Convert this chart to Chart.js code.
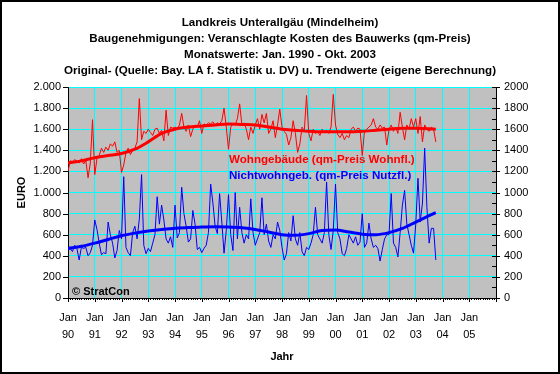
<!DOCTYPE html>
<html>
<head>
<meta charset="utf-8">
<script src="https://cdn.jsdelivr.net/npm/chart.js@4/dist/chart.umd.min.js"></script>
<style>
html,body{margin:0;padding:0;background:#fff;}
canvas{display:block;}
</style>
</head>
<body>
<canvas id="c" width="560" height="374"></canvas>
<script>
// ---- Data (monthly values Jan 1990 - Oct 2003) ----
const titleLines = [
  'Landkreis Unterallgäu (Mindelheim)',
  'Baugenehmigungen: Veranschlagte Kosten des Bauwerks (qm-Preis)',
  'Monatswerte: Jan. 1990 - Okt. 2003',
  'Original- (Quelle: Bay. LA f. Statistik u. DV) u. Trendwerte (eigene Berechnung)'
];
const yearLabels = ['90','91','92','93','94','95','96','97','98','99','00','01','02','03','04','05'];
const seriesNames = ['Wohngebäude (qm-Preis Wohnfl.)', 'Nichtwohngeb. (qm-Preis Nutzfl.)'];

const wohnValues = [
  1200,1300,1290,1310,1300,1280,1320,1270,1300,1140,1280,1690,
  1170,1320,1350,1420,1380,1430,1400,1460,1440,1480,1380,1400,
  1190,1260,1380,1420,1360,1400,1420,1480,1890,1500,1580,1560,
  1600,1570,1540,1600,1610,1560,1590,1490,1780,1540,1620,1610,
  1620,1600,1640,1750,1620,1580,1640,1530,1600,1640,1620,1680,
  1560,1650,1640,1660,1650,1670,1640,1660,1650,1680,1800,1620,
  1410,1620,1650,1640,1700,1840,1640,1660,1600,1500,1620,1560,
  1640,1700,1600,1740,1660,1750,1560,1600,1680,1520,1640,1790,
  1620,1580,1550,1450,1520,1680,1560,1380,1460,1620,1580,1920,
  1560,1490,1600,1560,1580,1540,1600,1570,1590,1560,1620,1930,
  1640,1550,1520,1560,1500,1540,1520,1600,1620,1580,1610,1600,
  1350,1580,1600,1620,1640,1700,1620,1600,1640,1610,1620,1450,
  1600,1640,1580,1620,1560,1760,1620,1500,1640,1600,1700,1620,
  1700,1560,1720,1480,1640,1600,1580,1620,1600,1480
];
const nichtwohnValues = [
  480,470,440,500,470,360,480,470,480,400,430,500,
  740,650,520,410,430,420,720,600,520,380,450,640,
  560,1150,480,430,400,620,680,560,750,1170,500,420,
  470,440,520,600,960,700,880,740,560,520,580,480,
  880,570,620,1050,800,680,530,560,830,700,460,480,
  430,470,500,620,1080,900,680,610,990,720,425,640,
  980,600,450,1000,560,860,620,520,600,560,940,620,
  500,560,620,950,600,700,540,480,600,560,720,640,
  480,360,420,620,540,780,560,500,620,440,400,480,
  460,520,600,860,600,560,520,620,1100,600,460,640,
  1080,620,560,420,400,470,600,560,520,580,500,530,
  800,480,520,710,560,480,500,470,350,460,560,600,
  600,990,520,480,390,620,880,1020,700,600,500,425,
  700,1135,720,900,1420,860,520,660,660,360
];
// Trend values read at half-year points (month index from Jan 1990)
const trendMonths = [0,6,12,18,24,30,36,42,48,54,60,66,72,78,84,90,96,102,108,114,120,126,132,138,144,150,156,162,165];
const wohnTrend = [1280,1300,1330,1350,1370,1410,1480,1560,1600,1620,1630,1640,1650,1645,1640,1620,1600,1590,1580,1575,1575,1575,1580,1590,1600,1610,1610,1605,1600];
const nichtwohnTrend = [470,490,520,555,590,615,635,650,660,668,672,675,672,665,650,625,600,595,610,640,645,625,605,600,620,660,720,780,810];

// ---- Build ----
const FONT = '"Liberation Sans", Arial, sans-serif';
const toXY = arr => arr.map((v,i) => ({x:i, y:v}));
const trendXY = arr => arr.map((v,i) => ({x:trendMonths[i], y:v}));
const fmtDot = v => { const s = String(Math.round(v)); return s.length > 3 ? s.slice(0, s.length-3) + '.' + s.slice(-3) : s; };

const decor = {
  id: 'decor',
  beforeDraw(chart) {
    const {ctx, chartArea:a} = chart;
    ctx.save();
    ctx.fillStyle = '#ffffff';
    ctx.fillRect(0, 0, chart.width, chart.height);
    ctx.fillStyle = '#c0c0c0';
    ctx.fillRect(a.left, a.top, a.right - a.left, a.bottom - a.top);
    ctx.restore();
  },
  afterDraw(chart) {
    const {ctx, chartArea:a, scales} = chart;
    ctx.save();
    ctx.strokeStyle = '#000';
    ctx.lineWidth = 1;
    ctx.beginPath();
    for (let v = 0; v <= 2000; v += 200) {
      const y = Math.round(scales.y.getPixelForValue(v)) + 0.5;
      ctx.moveTo(a.left - 5, y); ctx.lineTo(a.left, y);
    }
    for (let v = 0; v <= 2000; v += 100) {
      const y = Math.round(scales.y2.getPixelForValue(v)) + 0.5;
      if (v % 200 === 0) { ctx.moveTo(a.right - 4, y); ctx.lineTo(a.right + 4, y); }
      else { ctx.moveTo(a.right - 4, y); ctx.lineTo(a.right, y); }
    }
    for (let m = 0; m <= 192; m++) {
      const x = Math.round(scales.x.getPixelForValue(m)) + 0.5;
      const len = (m % 12 === 0) ? 4 : 2;
      ctx.moveTo(x, a.bottom); ctx.lineTo(x, a.bottom + len);
    }
    ctx.stroke();
    ctx.font = 'bold 11.6px ' + FONT;
    ctx.textBaseline = 'middle';
    ctx.textAlign = 'left';
    ctx.fillStyle = '#ff0000';
    ctx.fillText(seriesNames[0], 229, 160);
    ctx.fillStyle = '#0000ff';
    ctx.fillText(seriesNames[1], 229, 176);
    ctx.fillStyle = '#000';
    ctx.font = 'bold 11px ' + FONT;
    ctx.fillText('\u00A9 StratCon', a.left + 4, a.bottom - 6);
    ctx.lineWidth = 2;
    ctx.strokeRect(1, 1, chart.width - 2, chart.height - 2);
    ctx.restore();
  }
};

new Chart(document.getElementById('c'), {
  type: 'line',
  data: {
    datasets: [
      {data: trendXY(wohnTrend), borderColor:'#ff0000', borderWidth:3, pointRadius:0, cubicInterpolationMode:'monotone', order:1, yAxisID:'y'},
      {data: trendXY(nichtwohnTrend), borderColor:'#0000ff', borderWidth:3, pointRadius:0, cubicInterpolationMode:'monotone', order:2, yAxisID:'y'},
      {data: toXY(wohnValues), borderColor:'#ff0000', borderWidth:1, pointRadius:0, tension:0, order:3, yAxisID:'y'},
      {data: toXY(nichtwohnValues), borderColor:'#0000ff', borderWidth:1, pointRadius:0, tension:0, order:4, yAxisID:'y'}
    ]
  },
  options: {
    responsive: false,
    animation: false,
    devicePixelRatio: 1,
    layout: {padding: 0},
    plugins: {
      legend: {display:false},
      tooltip: {enabled:false},
      title: {
        display: true,
        text: titleLines,
        color: '#000',
        font: {family: FONT, size: 11.6, weight: 'bold', lineHeight: '16px'},
        padding: {top: 15, bottom: 8}
      }
    },
    scales: {
      x: {
        type: 'linear', position: 'bottom', min: 0, max: 192,
        afterFit: s => { s.height = 76; },
        grid: {color:'#00ffff', lineWidth:1, drawTicks:false},
        border: {color:'#000', width:1},
        ticks: {
          stepSize: 12, autoSkip: false, maxRotation: 0, padding: 11, color:'#000',
          font: {family: FONT, size: 11, lineHeight: '17px'},
          callback: v => (v % 12 === 0 && v/12 < yearLabels.length) ? ['Jan', yearLabels[v/12]] : ''
        },
        title: {display:true, text:'Jahr', color:'#000', font:{family:FONT, size:11, weight:'bold'}, padding:{top:0, bottom:10}}
      },
      y: {
        position: 'left', min: 0, max: 2000,
        afterFit: s => { s.width = 68; },
        grid: {color:'#00ffff', lineWidth:1, drawTicks:false},
        border: {color:'#000', width:1},
        ticks: {stepSize: 200, padding: 7, color:'#000', font:{family:FONT, size:11}, callback: v => fmtDot(v)},
        title: {display:true, text:'EURO', color:'#000', font:{family:FONT, size:11, weight:'bold'}, padding:{top:15, bottom:0}}
      },
      y2: {
        position: 'right', min: 0, max: 2000,
        afterFit: s => { s.width = 64; },
        grid: {drawOnChartArea:false, drawTicks:false},
        border: {color:'#000', width:1},
        ticks: {stepSize: 200, padding: 8, color:'#000', font:{family:FONT, size:11}, callback: v => String(v)}
      }
    }
  },
  plugins: [decor]
});
</script>
</body>
</html>
